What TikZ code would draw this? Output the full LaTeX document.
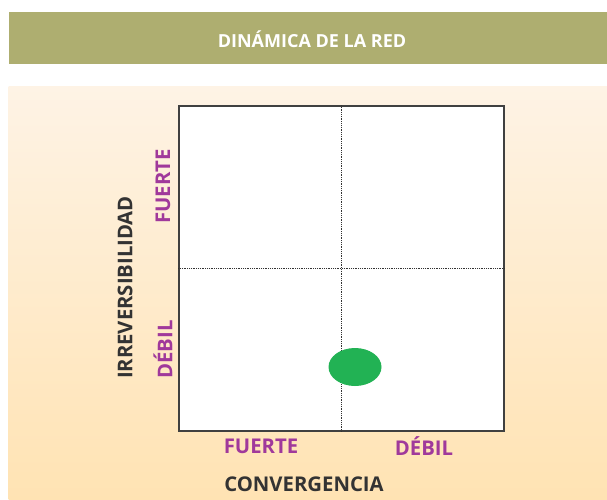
\documentclass[tikz,border=0pt]{standalone}
\usepackage{fontspec}
\setmainfont{Open Sans}
\usetikzlibrary{shapes.geometric}
\definecolor{hdr}{HTML}{AEAE70}
\definecolor{purp}{HTML}{A0399B}
\definecolor{dark}{HTML}{333333}
\definecolor{grn}{HTML}{22B254}
\definecolor{bgtop}{HTML}{FEF3E5}
\definecolor{bgbot}{HTML}{FFE3B3}
\tikzset{
  axlab/.style={text=purp, font=\bfseries\fontsize{20.3}{24}\selectfont, inner sep=0pt},
  axtitle/.style={text=dark, font=\bfseries\fontsize{20.3}{24}\selectfont, inner sep=0pt},
  divider/.style={densely dotted, line width=0.8pt, draw=black!80}
}
\begin{document}
\begin{tikzpicture}[x=1pt,y=-1pt]
\useasboundingbox (0,0) rectangle (607,500);
\fill[white] (0,0) rectangle (607,500);
% header band
\fill[hdr] (8.5,12) rectangle (607,64.5);
\node[text=white, font=\bfseries\fontsize{18}{21}\selectfont, inner sep=0pt] (title) at (312,39) {DINÁMICA DE LA RED};
% background panel
\shade[top color=bgtop, bottom color=bgbot] (8.5,87) rectangle (607,500);
% matrix box
\node[draw=black!75, line width=1.8pt, fill=white, minimum width=325pt, minimum height=325pt, inner sep=0pt] (box) at (341.5,268.5) {};
\draw[divider] (box.north) -- (box.south);
\draw[divider] (box.west) -- (box.east);
% point
\node[ellipse, fill=grn, minimum width=53pt, minimum height=38pt, inner sep=0pt] (pt) at (355,367) {};
% labels
\node[axlab] (cf) at (261,446) {FUERTE};
\node[axlab] (cd) at (424,446) {DÉBIL};
\node[axtitle] (conv) at (304,484) {CONVERGENCIA};
\node[axlab, rotate=90] (irf) at (163,186.5) {FUERTE};
\node[axlab, rotate=90] (ird) at (163,349.5) {DÉBIL};
\node[axtitle, rotate=90] (irr) at (125,287.5) {IRREVERSIBILIDAD};
\end{tikzpicture}
\end{document}
